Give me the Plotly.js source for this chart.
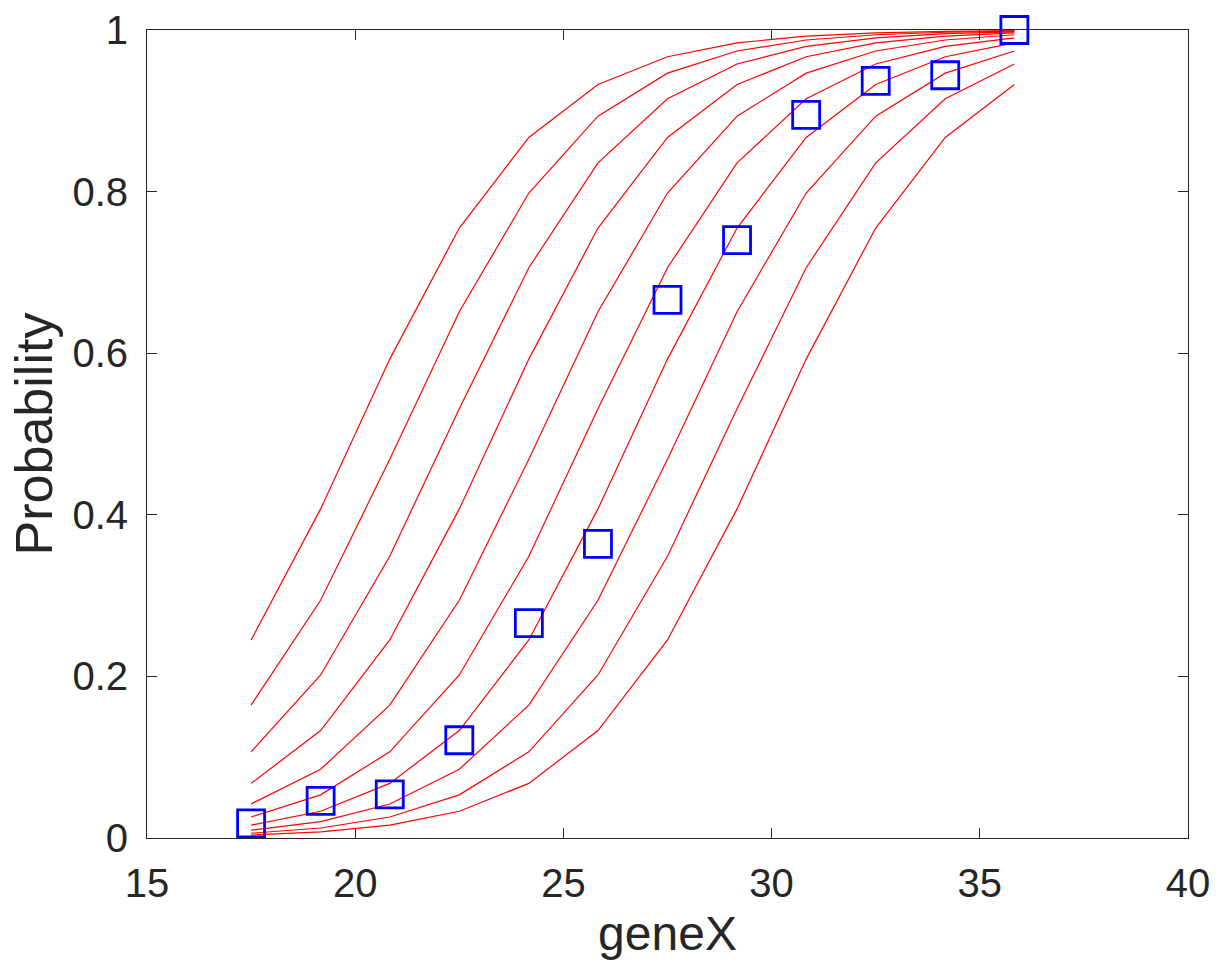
<!DOCTYPE html>
<html>
<head>
<meta charset="utf-8">
<script src="https://cdn.plot.ly/plotly-3.0.1.min.js"></script>
<style>html,body{margin:0;padding:0;background:#fff;}#chart{width:1217px;height:966px;}</style>
</head>
<body>
<div id="chart"></div>
<script>
// x positions shared by the curves and the observed proportions
const geneX = [17.5, 19.17, 20.83, 22.5, 24.17, 25.83, 27.5, 29.17, 30.83, 32.5, 34.17, 35.83];

// fitted probability curves (red), top-left to bottom-right
const curve1  = [0.2451, 0.4073, 0.5927, 0.7549, 0.8670, 0.9325, 0.9669, 0.9841, 0.9924, 0.9964, 0.9983, 0.9992];
const curve2  = [0.1645, 0.2942, 0.4688, 0.6514, 0.7982, 0.8933, 0.9466, 0.9740, 0.9876, 0.9941, 0.9972, 0.9987];
const curve3  = [0.1067, 0.2018, 0.3487, 0.5312, 0.7058, 0.8355, 0.9149, 0.9579, 0.9797, 0.9903, 0.9954, 0.9978];
const curve4  = [0.0676, 0.1330, 0.2451, 0.4073, 0.5927, 0.7549, 0.8670, 0.9325, 0.9669, 0.9841, 0.9924, 0.9964];
const curve5  = [0.0421, 0.0851, 0.1645, 0.2942, 0.4688, 0.6514, 0.7982, 0.8933, 0.9466, 0.9740, 0.9876, 0.9941];
const curve6  = [0.0260, 0.0534, 0.1067, 0.2018, 0.3487, 0.5312, 0.7058, 0.8355, 0.9149, 0.9579, 0.9797, 0.9903];
const curve7  = [0.0159, 0.0331, 0.0676, 0.1330, 0.2451, 0.4073, 0.5927, 0.7549, 0.8670, 0.9325, 0.9669, 0.9841];
const curve8  = [0.0097, 0.0203, 0.0421, 0.0851, 0.1645, 0.2942, 0.4688, 0.6514, 0.7982, 0.8933, 0.9466, 0.9740];
const curve9  = [0.0059, 0.0124, 0.0260, 0.0534, 0.1067, 0.2018, 0.3487, 0.5312, 0.7058, 0.8355, 0.9149, 0.9579];
const curve10 = [0.0036, 0.0076, 0.0159, 0.0331, 0.0676, 0.1330, 0.2451, 0.4073, 0.5927, 0.7549, 0.8670, 0.9325];

// observed proportions (blue squares)
const observed = [0.018, 0.046, 0.054, 0.121, 0.266, 0.364, 0.666, 0.740, 0.895, 0.937, 0.944, 1.0];

// axis ticks
const xTickVals = [15, 20, 25, 30, 35, 40];
const xTickText = ['15', '20', '25', '30', '35', '40'];
const yTickVals = [0, 0.2, 0.4, 0.6, 0.8, 1];
const yTickText = ['0', '0.2', '0.4', '0.6', '0.8', '1'];

const curves = [curve1, curve2, curve3, curve4, curve5, curve6, curve7, curve8, curve9, curve10];

const traces = curves.map(function (c) {
  return {
    x: geneX, y: c, type: 'scatter', mode: 'lines',
    line: {color: '#ff0000', width: 1.2}, hoverinfo: 'skip', showlegend: false
  };
});
traces.push({
  x: geneX, y: observed, type: 'scatter', mode: 'markers',
  marker: {symbol: 'square-open', size: 27, color: '#0000ff', line: {color: '#0000ff', width: 2.8}},
  showlegend: false, cliponaxis: false
});

const FONT = '"Liberation Sans", Arial, Helvetica, sans-serif';
const axisCommon = {
  showgrid: false, zeroline: false, showline: true, mirror: 'allticks',
  linecolor: '#262626', linewidth: 1, ticks: 'inside', ticklen: 10, tickwidth: 1,
  tickcolor: '#262626', tickfont: {family: FONT, size: 40, color: '#262626'}
};

const layout = {
  width: 1217, height: 966, autosize: false,
  paper_bgcolor: '#ffffff', plot_bgcolor: '#ffffff',
  margin: {l: 147, r: 29, t: 30, b: 128, pad: 0},
  showlegend: false,
  xaxis: Object.assign({}, axisCommon, {
    range: [15, 40], tickvals: xTickVals, ticktext: xTickText,
    ticklabelstandoff: 10,
    title: {text: 'geneX', font: {family: FONT, size: 48, color: '#262626'}, standoff: 12}
  }),
  yaxis: Object.assign({}, axisCommon, {
    range: [0, 1], tickvals: yTickVals, ticktext: yTickText,
    ticklabelstandoff: 10,
    title: {text: 'Probability', font: {family: FONT, size: 52, color: '#262626'}, standoff: 3}
  })
};

Plotly.newPlot('chart', traces, layout, {displayModeBar: false, staticPlot: true});
</script>
</body>
</html>
